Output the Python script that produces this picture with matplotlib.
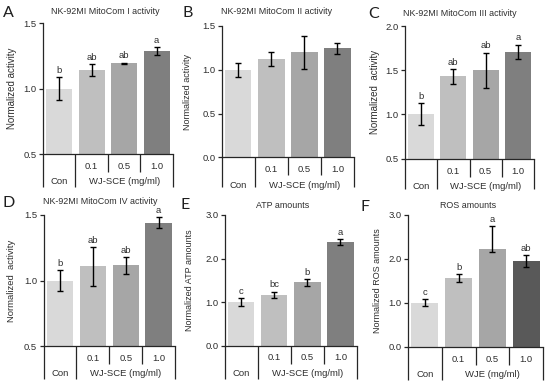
import matplotlib
matplotlib.use("Agg")
import matplotlib.pyplot as plt
import matplotlib.transforms as mtransforms

plt.rcParams['font.family'] = ['Liberation Sans', 'DejaVu Sans']

W, H = 550, 381

groups = ["Con", "0.1", "0.5", "1.0"]
colors_std = ["#d9d9d9", "#bfbfbf", "#a6a6a6", "#7f7f7f"]
colors_f = ["#d9d9d9", "#bfbfbf", "#a6a6a6", "#595959"]

a_vals = [1.00, 1.145, 1.195, 1.288]
a_err_lo = [0.09, 0.045, 0.005, 0.03]
a_err_hi = [0.09, 0.045, 0.005, 0.03]
a_sig = ["b", "ab", "ab", "a"]

b_vals = [1.00, 1.125, 1.20, 1.245]
b_err_lo = [0.08, 0.08, 0.19, 0.065]
b_err_hi = [0.08, 0.08, 0.19, 0.065]
b_sig = ["", "", "", ""]

c_vals = [1.00, 1.43, 1.50, 1.71]
c_err_lo = [0.125, 0.087, 0.20, 0.08]
c_err_hi = [0.125, 0.087, 0.20, 0.08]
c_sig = ["b", "ab", "ab", "a"]

d_vals = [1.00, 1.108, 1.115, 1.442]
d_err_lo = [0.08, 0.15, 0.065, 0.045]
d_err_hi = [0.08, 0.15, 0.065, 0.045]
d_sig = ["b", "ab", "ab", "a"]

e_vals = [1.00, 1.17, 1.45, 2.38]
e_err_lo = [0.085, 0.07, 0.075, 0.065]
e_err_hi = [0.085, 0.07, 0.075, 0.065]
e_sig = ["c", "bc", "b", "a"]

f_vals = [1.00, 1.56, 2.22, 1.95]
f_err_lo = [0.075, 0.09, 0.06, 0.13]
f_err_hi = [0.075, 0.09, 0.53, 0.13]
f_sig = ["c", "b", "a", "ab"]

fig = plt.figure(figsize=(W / 100, H / 100), dpi=100)

TXT = "#2e2e2e"
LN = "#262626"


def panel(letter, letter_xy, title, title_xy, box, vals, err_lo, err_hi, sig, ylim,
          yticks, ylabel, ylabel_x, ylabel_fs, colors, group_label, table_depth):
    l, r, t, b = box
    ax = fig.add_axes([l / W, 1 - b / H, (r - l) / W, (b - t) / H])
    x = list(range(len(groups)))
    ax.bar(x, vals, width=0.8, color=colors, edgecolor="none", zorder=2)
    ax.errorbar(x, vals, yerr=[err_lo, err_hi], fmt="none", ecolor="black",
                elinewidth=1.0, capsize=2.0, capthick=1.0, zorder=3)
    for xi, v, e, s in zip(x, vals, err_hi, sig):
        if s:
            ax.annotate(s, (xi, v + e), xytext=(0, 1.5), textcoords="offset points",
                        ha="center", va="bottom", fontsize=6.8, color=TXT)
    ax.set_xlim(-0.5, 3.5)
    ax.set_ylim(*ylim)
    ax.set_yticks(yticks)
    ax.set_yticklabels(["%.1f" % v for v in yticks])
    ax.tick_params(axis="y", labelsize=6.8, colors=LN, labelcolor=TXT, length=3,
                   width=0.9, pad=1.5)
    ax.set_xticks([])
    for s in ["top", "right"]:
        ax.spines[s].set_visible(False)
    for s in ["left", "bottom"]:
        ax.spines[s].set_color(LN)
        ax.spines[s].set_linewidth(0.9)
    hpx = b - t
    trans = mtransforms.blended_transform_factory(ax.transData, ax.transAxes)
    full = -table_depth / hpx
    half = -18 / hpx
    for xv, depth in [(-0.5, full), (0.5, full), (1.5, half), (2.5, half), (3.5, full)]:
        ax.plot([xv, xv], [0, depth], transform=trans, color=LN, lw=0.9,
                clip_on=False, solid_capstyle="butt")
    row1 = -12.5 / hpx
    row2 = -28 / hpx
    for xi, g in zip(x[1:], groups[1:]):
        ax.text(xi, row1, g, transform=trans, ha="center", va="center",
                fontsize=6.8, color=TXT)
    ax.text(0, row2, groups[0], transform=trans, ha="center", va="center",
            fontsize=6.8, color=TXT)
    ax.text(2, row2, group_label, transform=trans, ha="center", va="center",
            fontsize=6.8, color=TXT)
    fig.text(ylabel_x / W, 1 - (t + b) / 2 / H, ylabel, rotation=90, ha="center",
             va="center", fontsize=ylabel_fs, color=TXT)
    fig.text(title_xy[0] / W, 1 - title_xy[1] / H, title, ha="center", va="center",
             fontsize=6.4, color=TXT)
    fig.text(letter_xy[0] / W, 1 - letter_xy[1] / H, letter, ha="left", va="center",
             fontsize=11.5, color="#1e1e1e", family=["Lato", "DejaVu Sans"])
    return ax


panel("A", (3, 13), "NK-92MI MitoCom I activity", (105, 11), (42.7, 173, 23.3, 154),
      a_vals, a_err_lo, a_err_hi, a_sig, (0.5, 1.5), [0.5, 1.0, 1.5],
      "Normalized activity", 12, 7, colors_std, "WJ-SCE (mg/ml)", 33)
panel("B", (183, 13), "NK-92MI MitoCom II activity", (277, 12), (221.7, 354, 26, 157.5),
      b_vals, b_err_lo, b_err_hi, b_sig, (0.0, 1.5), [0.0, 0.5, 1.0, 1.5],
      "Normalized activity", 188, 6.5, colors_std, "WJ-SCE (mg/ml)", 30)
panel("C", (368, 14), "NK-92MI MitoCom III activity", (460, 13), (405, 534, 26, 158.5),
      c_vals, c_err_lo, c_err_hi, c_sig, (0.5, 2.0), [0.5, 1.0, 1.5, 2.0],
      "Normalized  activity", 375, 7, colors_std, "WJ-SCE (mg/ml)", 30)
panel("D", (2, 202.5), "NK-92MI MitoCom IV activity", (100, 202), (43.5, 175, 215, 346),
      d_vals, d_err_lo, d_err_hi, d_sig, (0.5, 1.5), [0.5, 1.0, 1.5],
      "Normalized  activity", 12, 6.8, colors_std, "WJ-SCE (mg/ml)", 33)
panel("E", (181, 205), "ATP amounts", (283, 205), (224.5, 357, 215, 345.5),
      e_vals, e_err_lo, e_err_hi, e_sig, (0.0, 3.0), [0.0, 1.0, 2.0, 3.0],
      "Normalized ATP amounts", 190, 6.5, colors_std, "WJ-SCE (mg/ml)", 33)
panel("F", (361, 207), "ROS amounts", (468, 206), (408, 543, 215, 346.5),
      f_vals, f_err_lo, f_err_hi, f_sig, (0.0, 3.0), [0.0, 1.0, 2.0, 3.0],
      "Normalized ROS amounts", 378, 6.5, colors_f, "WJE (mg/ml)", 33)

fig.savefig("out.png", dpi=100, facecolor="white")
